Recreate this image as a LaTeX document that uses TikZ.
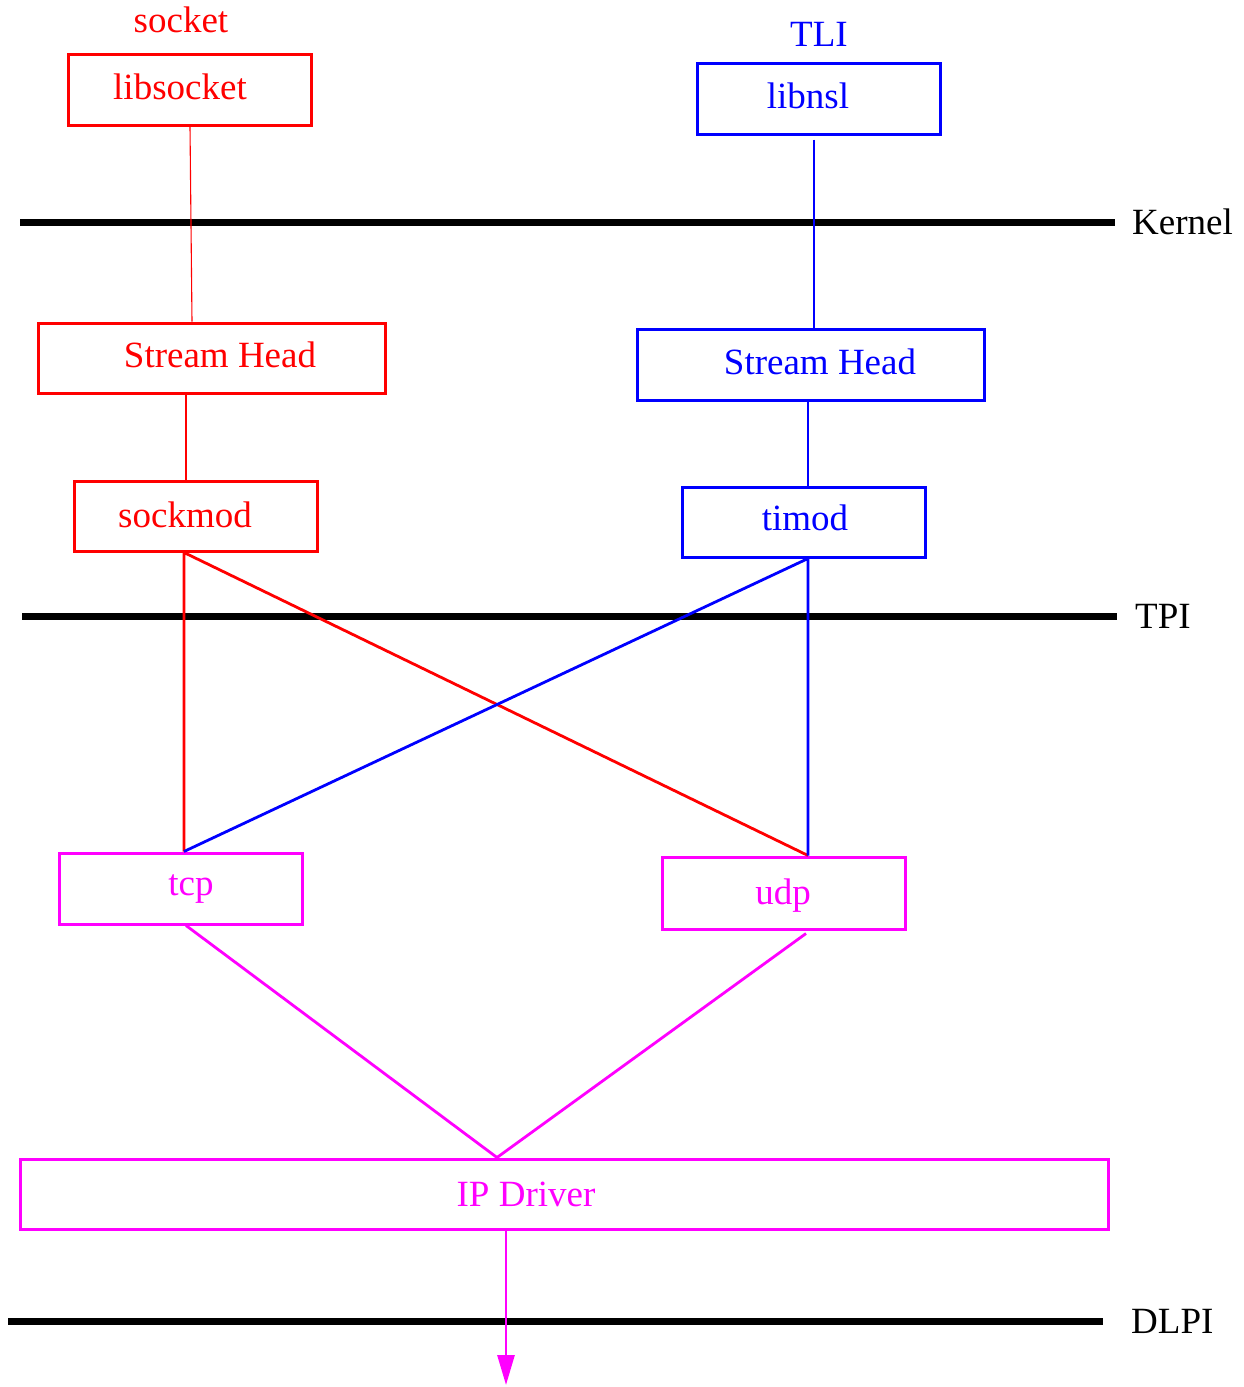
\documentclass[tikz,border=0pt]{standalone}
\usepackage{fontspec}
\setmainfont{Liberation Serif}
\usepackage{tikz}
\usetikzlibrary{arrows.meta,positioning,calc}

\definecolor{ipmagenta}{RGB}{255,0,255}
\definecolor{sockred}{RGB}{255,0,0}
\definecolor{tliblue}{RGB}{0,0,255}

\tikzset{
  box/.style={draw=#1, line width=3pt, inner sep=0pt,
    minimum width=243pt, minimum height=71pt},
  thin/.style={line width=1.1pt},
  link/.style={line width=2.8pt},
  layer/.style={line width=7pt, black},
  layername/.style={anchor=west, inner sep=0pt},
}

\begin{document}
\begin{tikzpicture}[
    x=1pt, y=-1pt,
    font=\fontsize{37pt}{44pt}\selectfont,
  ]
  \useasboundingbox (0,0) rectangle (1243,1387);

  % layer boundaries
  \coordinate (k0) at (20,222);  \coordinate (k1) at (1115,222);
  \coordinate (t0) at (22,616);  \coordinate (t1) at (1117,616);
  \coordinate (d0) at (8,1321);  \coordinate (d1) at (1103,1321);
  \draw[layer] (k0) -- (k1);
  \draw[layer] (t0) -- (t1);
  \draw[layer] (d0) -- (d1);
  \node[layername] (kernel) at (1132,222) {Kernel};
  \node[layername] (tpi) at (1135,616) {TPI};
  \node[layername] (dlpi) at (1131,1321) {DLPI};

  % socket side
  \node[sockred] (socket) at (181,20) {socket};
  \node[box=sockred, label={[sockred,xshift=-10pt,yshift=3pt]center:libsocket}]
    (libsocket) at (190,89.5) {};
  \node[box=sockred, minimum width=347pt, minimum height=70pt,
    label={[sockred,xshift=8.5pt,yshift=3pt]center:Stream Head}]
    (rsh) at (211.5,358) {};
  \node[box=sockred, minimum height=70pt,
    label={[sockred,xshift=-10.5pt,yshift=1pt]center:sockmod}]
    (sockmod) at (195.5,516) {};

  % TLI side
  \node[tliblue] (tli) at (819,34) {TLI};
  \node[box=tliblue, label={[tliblue,xshift=-10.5pt,yshift=3pt]center:libnsl}]
    (libnsl) at (818.5,98.5) {};
  \node[box=tliblue, minimum width=347pt,
    label={[tliblue,xshift=9.5pt,yshift=3pt]center:Stream Head}]
    (bsh) at (810.5,364.5) {};
  \node[box=tliblue, minimum height=70pt,
    label={[tliblue,xshift=1.5pt,yshift=4pt]center:timod}]
    (timod) at (803.5,522) {};

  % transports
  \node[box=ipmagenta, label={[ipmagenta,xshift=10.5pt,yshift=-1pt]center:tcp}]
    (tcp) at (180.5,888.5) {};
  \node[box=ipmagenta, minimum height=72pt,
    label={[ipmagenta,xshift=-0.5pt,yshift=-3pt]center:udp}]
    (udp) at (783.5,893) {};
  \node[box=ipmagenta, minimum width=1088pt, minimum height=70pt,
    label={[ipmagenta,xshift=-38pt,yshift=0pt]center:IP Driver}]
    (ip) at (564,1194) {};

  % library to stream head
  \draw[thin, sockred] (libsocket.south) -- ([xshift=-19.5pt]rsh.north);
  \draw[thin, tliblue] ([xshift=-4.5pt,yshift=-4pt]libnsl.south)
    -- ([xshift=3.5pt]bsh.north);
  \draw[link, sockred] ([xshift=-25.5pt]rsh.south) -- ([xshift=-9.5pt]sockmod.north);
  \draw[link, tliblue] ([xshift=-2.5pt]bsh.south) -- ([xshift=4.5pt]timod.north);

  % modules to transports
  \coordinate (sockfoot) at ([xshift=-11.5pt]sockmod.south);
  \coordinate (tifoot) at ([xshift=4.5pt]timod.south);
  \coordinate (tcptop) at ([xshift=3.5pt]tcp.north);
  \coordinate (udptop) at ([xshift=24.5pt]udp.north);
  \draw[link, sockred] (sockfoot) -- (tcptop) (sockfoot) -- (udptop);
  \draw[link, tliblue] (tifoot) -- (tcptop) (tifoot) -- (udptop);

  % transports to IP
  \draw[link, ipmagenta] ([xshift=5.5pt]tcp.south) -- ([xshift=-67pt]ip.north)
    -- ([xshift=22.5pt,yshift=-3pt]udp.south);
  \coordinate (out) at (506,1385);
  \draw[link, ipmagenta, -{Triangle[length=30pt,width=17pt]}]
    ([xshift=-58pt]ip.south) -- (out);
\end{tikzpicture}
\end{document}
